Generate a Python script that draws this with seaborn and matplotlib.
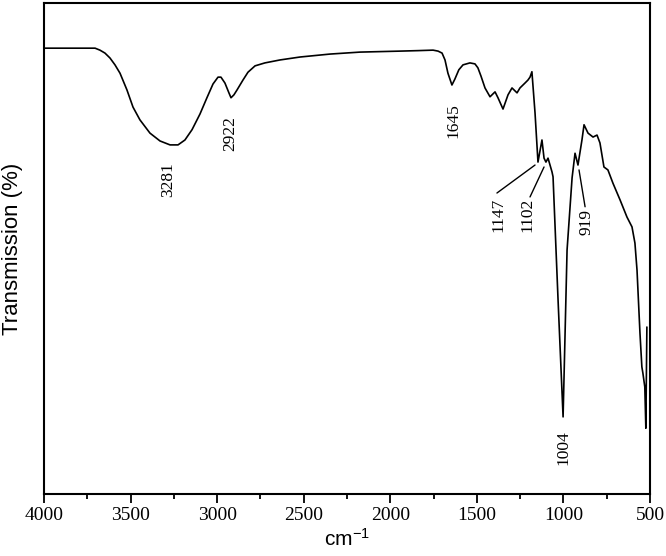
import matplotlib
matplotlib.use("Agg")
import matplotlib.pyplot as plt
import seaborn as sns
import pandas as pd
from matplotlib.ticker import MultipleLocator

# FTIR spectrum (wavenumber in cm-1, transmission in %)
wavenumber = [4000, 3705, 3677, 3648, 3619, 3590, 3561, 3521, 3486, 3446, 3388, 3330,
              3272, 3226, 3186, 3145, 3099, 3059, 3024, 2995, 2978, 2955, 2932, 2920,
              2903, 2885, 2851, 2822, 2781, 2724, 2637, 2521, 2348, 2175, 1944, 1840,
              1753, 1724, 1701, 1684, 1667, 1644, 1627, 1604, 1580, 1540, 1511, 1494,
              1476, 1453, 1424, 1395, 1378, 1349, 1320, 1297, 1268, 1251, 1222, 1205,
              1193, 1182, 1164, 1147, 1124, 1112, 1101, 1089, 1066, 1060, 1031, 1002,
              979, 950, 933, 916, 893, 881, 858, 829, 806, 789, 766, 743, 714, 673,
              633, 604, 587, 575, 558, 547, 541, 530, 524, 518]
transmission = [90.8, 90.8, 90.4, 89.8, 88.8, 87.4, 85.7, 82.3, 78.8, 76.2, 73.5, 71.9,
                71.1, 71.1, 72.1, 74.2, 77.4, 80.7, 83.5, 84.9, 84.9, 83.7, 81.7, 80.7,
                81.3, 82.3, 84.3, 85.9, 87.2, 87.8, 88.4, 89.0, 89.6, 90.0, 90.2, 90.3,
                90.4, 90.2, 89.8, 88.4, 85.7, 83.3, 84.5, 86.4, 87.4, 87.8, 87.6, 86.8,
                85.1, 82.7, 80.9, 81.9, 80.7, 78.4, 81.3, 82.7, 81.7, 82.7, 83.7, 84.3,
                84.9, 86.0, 77.6, 67.6, 72.1, 68.4, 67.6, 68.4, 65.6, 64.6, 39.5, 15.7,
                49.7, 64.4, 69.4, 67.0, 72.1, 75.2, 73.5, 72.7, 73.1, 71.5, 66.6, 66.0,
                63.3, 59.9, 56.4, 54.4, 51.1, 45.6, 32.8, 25.9, 24.6, 21.8, 13.4, 34.0]

# Peak labels: text, label position (wavenumber, T), leader line ends (None = no line)
peak_labels = ["3281", "2922", "1645", "1147", "1102", "919", "1004"]
label_x = [3284, 2926, 1638, 1378, 1205, 864, 1002]
label_y = [64.0, 73.5, 76.0, 56.8, 56.8, 55.4, 9.4]
line_from = [None, None, None, (1384, 61.3), (1193, 60.5), (875, 58.5), None]
line_to = [None, None, None, (1164, 67.0), (1112, 66.6), (910, 66.0), None]

x_ticks = [4000, 3500, 3000, 2500, 2000, 1500, 1000, 500]

df = pd.DataFrame({"wn": wavenumber, "T": transmission})

sns.set_style("white")
plt.rcParams["font.family"] = ["Liberation Serif", "DejaVu Serif"]
plt.rcParams["mathtext.default"] = "regular"
plt.rcParams["text.color"] = "black"
plt.rcParams["axes.labelcolor"] = "black"

fig = plt.figure(figsize=(6.66, 5.56), dpi=100)
ax = fig.add_axes([44 / 666, 1 - 494 / 556, 606 / 666, 491 / 556])

sns.lineplot(data=df, x="wn", y="T", ax=ax, color="black", linewidth=1.2,
             sort=False, estimator=None)

ax.set_xlim(4000, 500)
ax.set_ylim(0, 100)
ax.set_xticks(x_ticks)
ax.set_xticklabels([str(t) for t in x_ticks], fontsize=14,
                   family=["Liberation Serif"])
ax.xaxis.set_minor_locator(MultipleLocator(250))
ax.set_yticks([])
ax.tick_params(axis="x", which="major", direction="out", length=6.5, width=1.3,
               pad=3, bottom=True, colors="black")
ax.tick_params(axis="x", which="minor", direction="out", length=3.5, width=1.3,
               bottom=True, colors="black")

for sp in ax.spines.values():
    sp.set_visible(True)
    sp.set_color("black")
    sp.set_linewidth(1.5)

ax.set_xlabel("cm$^{-1}$", fontsize=15, family=["Liberation Sans"], labelpad=3,
              color="black")
ax.set_ylabel("Transmission (%)", fontsize=16, family=["Liberation Sans"], labelpad=15,
              color="black")

for txt, lx, ly, lf, lt in zip(peak_labels, label_x, label_y, line_from, line_to):
    ax.text(lx, ly, txt, rotation=90, ha="center", va="center", fontsize=12.5,
            family=["Liberation Serif"], color="black")
    if lf is not None:
        ax.plot([lf[0], lt[0]], [lf[1], lt[1]], color="black", linewidth=1.0)

fig.savefig("out.png", dpi=100)
